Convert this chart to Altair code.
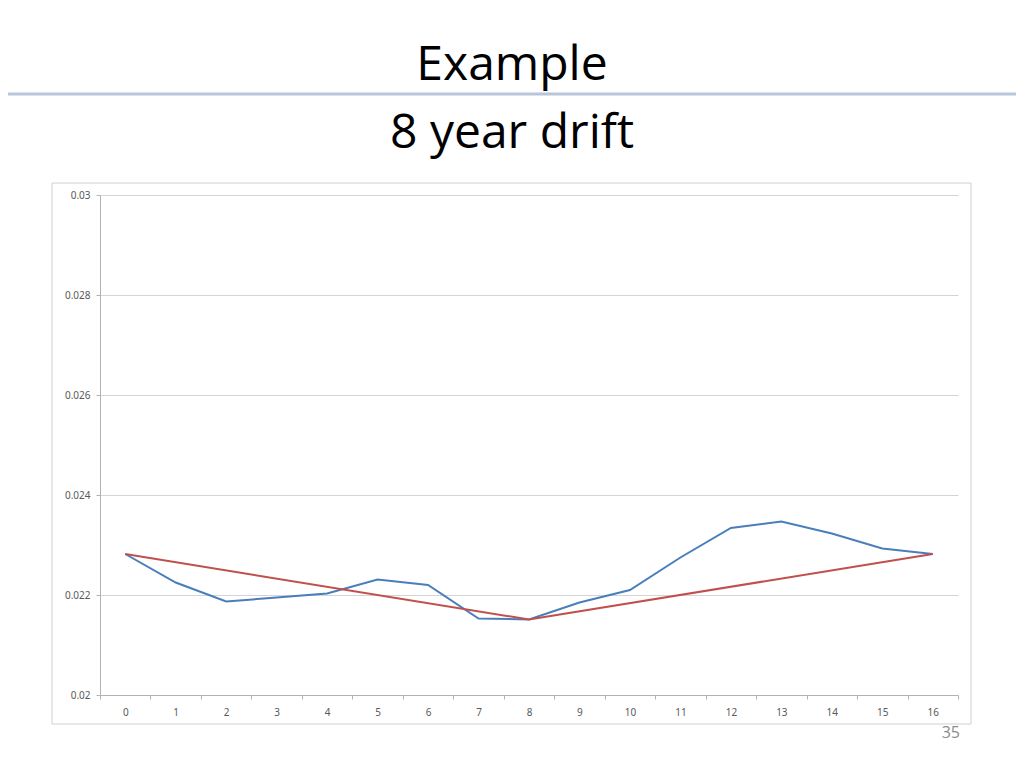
import altair as alt
import pandas as pd

# ---- data ----
title_line1 = "Example"
title_line2 = "8 year drift"
page_number = "35"

periods = list(range(17))
observed = [0.02282, 0.02225, 0.02187, 0.02195, 0.02203, 0.02231, 0.02220,
            0.02153, 0.02151, 0.02185, 0.02210, 0.02275, 0.02334, 0.02347,
            0.02323, 0.02293, 0.02282]
drift_periods = [0, 8, 16]
drift = [0.02282, 0.02151, 0.02282]
y_ticks = [0.02, 0.022, 0.024, 0.026, 0.028, 0.03]

df_obs = pd.DataFrame({"period": periods, "value": observed})
df_drift = pd.DataFrame({"period": drift_periods, "value": drift})
one = pd.DataFrame({"k": [0]})

AXIS_GRAY = "#b3b3b3"
LABEL_GRAY = "#595959"

x_enc = alt.X(
    "period:O",
    bandPosition=0.5,
    scale=alt.Scale(type="band", domain=periods, paddingInner=0, paddingOuter=0),
    axis=alt.Axis(title=None, labelAngle=0, tickBand="extent", tickSize=4,
                  labelPadding=8, grid=False, domainColor=AXIS_GRAY,
                  tickColor=AXIS_GRAY, labelColor=LABEL_GRAY, labelFontSize=10,
                  labelFont="Noto Sans"),
)
y_enc = alt.Y(
    "value:Q",
    scale=alt.Scale(domain=[0.02, 0.03], nice=False, zero=False),
    axis=alt.Axis(title=None, values=y_ticks, format=".3~f", tickSize=4,
                  labelPadding=6, grid=True, gridColor="#d4d4d4",
                  domainColor=AXIS_GRAY, tickColor=AXIS_GRAY,
                  labelColor=LABEL_GRAY, labelFontSize=10, labelFont="Noto Sans"),
)

blue = alt.Chart(df_obs).mark_line(color="#4a7ebb", strokeWidth=2).encode(x=x_enc, y=y_enc)
red = alt.Chart(df_drift).mark_line(color="#c0504d", strokeWidth=2).encode(x=x_enc, y=y_enc)

border = alt.Chart(one).mark_rect(fillOpacity=0, stroke="#d0d0d0", strokeWidth=1).encode(
    x=alt.value(-48), x2=alt.value(871), y=alt.value(-12), y2=alt.value(529)
)
separator = alt.Chart(one).mark_rule(color="#b8c6dc", strokeWidth=3).encode(
    x=alt.value(-92), x2=alt.value(916), y=alt.value(-101)
)
t1 = alt.Chart(one).mark_text(text=title_line1, font="Open Sans", fontSize=48,
                              align="center", baseline="alphabetic", color="black").encode(
    x=alt.value(412), y=alt.value(-115)
)
t2 = alt.Chart(one).mark_text(text=title_line2, font="Open Sans", fontSize=48,
                              align="center", baseline="alphabetic", color="black").encode(
    x=alt.value(412), y=alt.value(-47)
)
page = alt.Chart(one).mark_text(text=page_number, font="Open Sans", fontSize=16,
                                align="right", baseline="alphabetic", color="#8c8c8c").encode(
    x=alt.value(860), y=alt.value(543)
)

chart = alt.layer(border, separator, t1, t2, page, blue, red).properties(
    width=858, height=500,
    autosize=alt.AutoSizeParams(type="none"),
    padding={"left": 92, "top": 187, "right": 58, "bottom": 65},
    background="white",
).configure_view(strokeWidth=0)

chart.save("out.html", embed_options={"renderer": "svg", "actions": False})
